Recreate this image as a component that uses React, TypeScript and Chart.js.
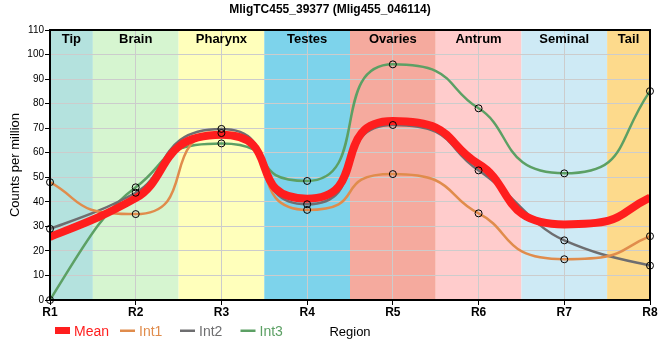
import React, { useEffect, useRef } from "react";
import { Chart, registerables } from "chart.js";

Chart.register(...registerables);

const TITLE = "MligTC455_39377 (Mlig455_046114)";
const Y_TITLE = "Counts per million";
const X_TITLE = "Region";

const xLabels = ["R1", "R2", "R3", "R4", "R5", "R6", "R7", "R8"];
const meanValues = [25.7, 41.5, 67.3, 41.3, 72.9, 55.4, 30.8, 41.7];
const int1Values = [48, 35, 68, 36.7, 51.3, 35.3, 16.6, 26];
const int2Values = [29, 43.7, 69.7, 39, 71.3, 52.8, 24.3, 14];
const int3Values = [0, 45.9, 63.8, 48.5, 96, 78.1, 51.6, 85.1];

const regionNames = ["Tip", "Brain", "Pharynx", "Testes", "Ovaries", "Antrum", "Seminal", "Tail"];
const regionStarts = [0, 0.5, 1.5, 2.5, 3.5, 4.5, 5.5, 6.5];
const regionEnds = [0.5, 1.5, 2.5, 3.5, 4.5, 5.5, 6.5, 7];
const regionColors = [
  "rgb(180,226,222)",
  "rgb(214,245,208)",
  "rgb(255,255,187)",
  "rgb(125,211,235)",
  "rgb(245,170,158)",
  "rgb(255,204,204)",
  "rgb(206,234,245)",
  "rgb(253,218,140)",
];

const seriesNames = ["Mean", "Int1", "Int2", "Int3"];
const seriesColors = ["rgb(255,30,30)", "rgb(224,140,76)", "rgb(110,110,112)", "rgb(92,160,100)"];

const FONT = '"Liberation Sans", Arial, sans-serif';

// smoothing parameters for the curve shape
const K_EXTREMUM = 0.75;
const K_MONOTONE = 0.4;

function reshapeCurve(pts: any[]) {
  const n = pts.length;
  if (n < 2) return;
  const d: number[] = [];
  for (let i = 0; i < n - 1; i++) d.push((pts[i + 1].y - pts[i].y) / (pts[i + 1].x - pts[i].x));
  const m: number[] = new Array(n).fill(0);
  const ext: boolean[] = new Array(n).fill(false);
  for (let i = 1; i < n - 1; i++) {
    if (d[i - 1] * d[i] <= 0) {
      m[i] = 0;
      ext[i] = true;
    } else {
      m[i] = 2 / (1 / d[i - 1] + 1 / d[i]);
    }
  }
  const endSlope = (dd: number, mi: number) => {
    let s = (3 * dd - mi) / 2;
    if (Math.sign(s) !== Math.sign(dd)) s = 0;
    else if (Math.abs(s) > Math.abs(3 * dd)) s = 3 * dd;
    return s;
  };
  m[0] = n > 2 ? endSlope(d[0], m[1]) : d[0];
  m[n - 1] = n > 2 ? endSlope(d[n - 2], m[n - 2]) : d[n - 2];
  for (let i = 0; i < n; i++) {
    const p = pts[i];
    const k = ext[i] ? K_EXTREMUM : K_MONOTONE;
    if (i < n - 1) {
      const q = pts[i + 1];
      const dx = q.x - p.x;
      let cy = p.y + m[i] * k * dx;
      cy = Math.min(Math.max(cy, Math.min(p.y, q.y)), Math.max(p.y, q.y));
      p.cp2x = p.x + k * dx;
      p.cp2y = cy;
    } else {
      p.cp2x = p.x;
      p.cp2y = p.y;
    }
    if (i > 0) {
      const o = pts[i - 1];
      const dx = p.x - o.x;
      let cy = p.y - m[i] * k * dx;
      cy = Math.min(Math.max(cy, Math.min(p.y, o.y)), Math.max(p.y, o.y));
      p.cp1x = p.x - k * dx;
      p.cp1y = cy;
    } else {
      p.cp1x = p.x;
      p.cp1y = p.y;
    }
  }
}

export default function App() {
  const ref = useRef<HTMLCanvasElement>(null);

  useEffect(() => {
    document.body.style.margin = "0";
    const canvas = ref.current!;
    const mk = (arr: number[]) => arr.map((v, i) => ({ x: i, y: v }));

    const pointSet = (label: string, arr: number[]) => ({
      label,
      data: mk(arr),
      showLine: false,
      pointRadius: 3.5,
      pointBorderWidth: 1,
      pointBorderColor: "#000",
      pointBackgroundColor: "rgba(0,0,0,0)",
      clip: false as any,
      order: 0,
      isPoints: true,
    });
    const lineSet = (i: number, arr: number[], width: number, order: number) => ({
      label: seriesNames[i],
      data: mk(arr),
      borderColor: seriesColors[i],
      backgroundColor: seriesColors[i],
      borderWidth: width,
      pointRadius: 0,
      cubicInterpolationMode: "monotone" as const,
      fill: false,
      order,
    });

    const decorPlugin = {
      id: "decor",
      beforeDraw(chart: any) {
        const { ctx, chartArea, scales } = chart;
        const x = scales.x;
        ctx.save();
        regionNames.forEach((_, i) => {
          const x0 = x.getPixelForValue(regionStarts[i]);
          const x1 = x.getPixelForValue(regionEnds[i]);
          ctx.fillStyle = regionColors[i];
          ctx.fillRect(x0, chartArea.top, x1 - x0, chartArea.bottom - chartArea.top);
        });
        ctx.restore();
      },
      beforeDatasetDraw(chart: any, args: any) {
        const meta = args.meta;
        const ds = chart.data.datasets[args.index];
        if (ds.isPoints || !meta.dataset) return;
        const line = meta.dataset;
        if (typeof line.updateControlPoints === "function") {
          line.updateControlPoints(chart.chartArea, "x");
        }
        line._pointsUpdated = true;
        reshapeCurve(meta.data);
        line._path = undefined;
      },
      afterDatasetsDraw(chart: any) {
        const { ctx, chartArea, scales } = chart;
        const x = scales.x;
        ctx.save();
        ctx.fillStyle = "#000";
        ctx.font = `bold 13px ${FONT}`;
        ctx.textAlign = "center";
        ctx.textBaseline = "alphabetic";
        regionNames.forEach((n, i) => {
          const cx = (x.getPixelForValue(regionStarts[i]) + x.getPixelForValue(regionEnds[i])) / 2;
          ctx.fillText(n, cx, chartArea.top + 12.5);
        });
        ctx.strokeStyle = "#000";
        ctx.lineWidth = 2;
        ctx.strokeRect(chartArea.left, chartArea.top, chartArea.right - chartArea.left, chartArea.bottom - chartArea.top);
        ctx.restore();
      },
      afterDraw(chart: any) {
        const { ctx, chartArea } = chart;
        ctx.save();
        ctx.fillStyle = "#000";
        ctx.font = `bold 12px ${FONT}`;
        ctx.textAlign = "center";
        ctx.textBaseline = "alphabetic";
        ctx.fillText(TITLE, 330, 13);
        ctx.save();
        ctx.translate(19, (chartArea.top + chartArea.bottom) / 2);
        ctx.rotate(-Math.PI / 2);
        ctx.font = `13px ${FONT}`;
        ctx.fillText(Y_TITLE, 0, 0);
        ctx.restore();
        ctx.font = `13px ${FONT}`;
        ctx.fillText(X_TITLE, (chartArea.left + chartArea.right) / 2, 336);
        ctx.textAlign = "left";
        ctx.font = `14px ${FONT}`;
        const legendX = [55, 120, 180, 240.5];
        seriesNames.forEach((n, i) => {
          const lx = legendX[i];
          ctx.fillStyle = seriesColors[i];
          if (i === 0) {
            ctx.fillRect(lx, 327, 15, 7);
          } else {
            ctx.fillRect(lx, 329.5, 15, 2.5);
          }
          ctx.fillText(n, lx + 19, 335.5);
        });
        ctx.restore();
      },
    };

    const chart = new Chart(canvas, {
      type: "line",
      data: {
        datasets: [
          pointSet("Int1 points", int1Values),
          pointSet("Int2 points", int2Values),
          pointSet("Int3 points", int3Values),
          lineSet(0, meanValues, 8, 1),
          lineSet(1, int1Values, 2.5, 2),
          lineSet(2, int2Values, 2.5, 3),
          lineSet(3, int3Values, 2.5, 4),
        ] as any,
      },
      options: {
        animation: false,
        responsive: false,
        maintainAspectRatio: false,
        layout: { padding: { top: 30, right: 10, left: 0, bottom: 0 } },
        plugins: {
          legend: { display: false },
          title: { display: false },
          tooltip: { enabled: false },
        },
        events: [],
        scales: {
          x: {
            type: "linear",
            min: 0,
            max: 7,
            afterFit: (s: any) => {
              s.height = 60;
            },
            border: { display: false },
            grid: { color: "#cccccc", tickColor: "#000", tickLength: 5, lineWidth: 1 },
            ticks: {
              stepSize: 1,
              autoSkip: false,
              maxRotation: 0,
              padding: 0,
              color: "#000",
              font: { family: FONT, size: 12, weight: "bold" },
              callback: (v: any) => xLabels[v] ?? "",
            },
          },
          y: {
            min: 0,
            max: 110,
            afterFit: (s: any) => {
              s.width = 50;
            },
            border: { display: false },
            grid: { color: "#cccccc", tickColor: "#000", tickLength: 5, lineWidth: 1 },
            ticks: {
              stepSize: 10,
              padding: 1,
              color: "#000",
              font: { family: FONT, size: 10 },
            },
          },
        },
      } as any,
      plugins: [decorPlugin],
    });
    return () => chart.destroy();
  }, []);

  return (
    <div style={{ width: 660, height: 360 }}>
      <canvas ref={ref} width={660} height={360} style={{ display: "block" }} />
    </div>
  );
}
